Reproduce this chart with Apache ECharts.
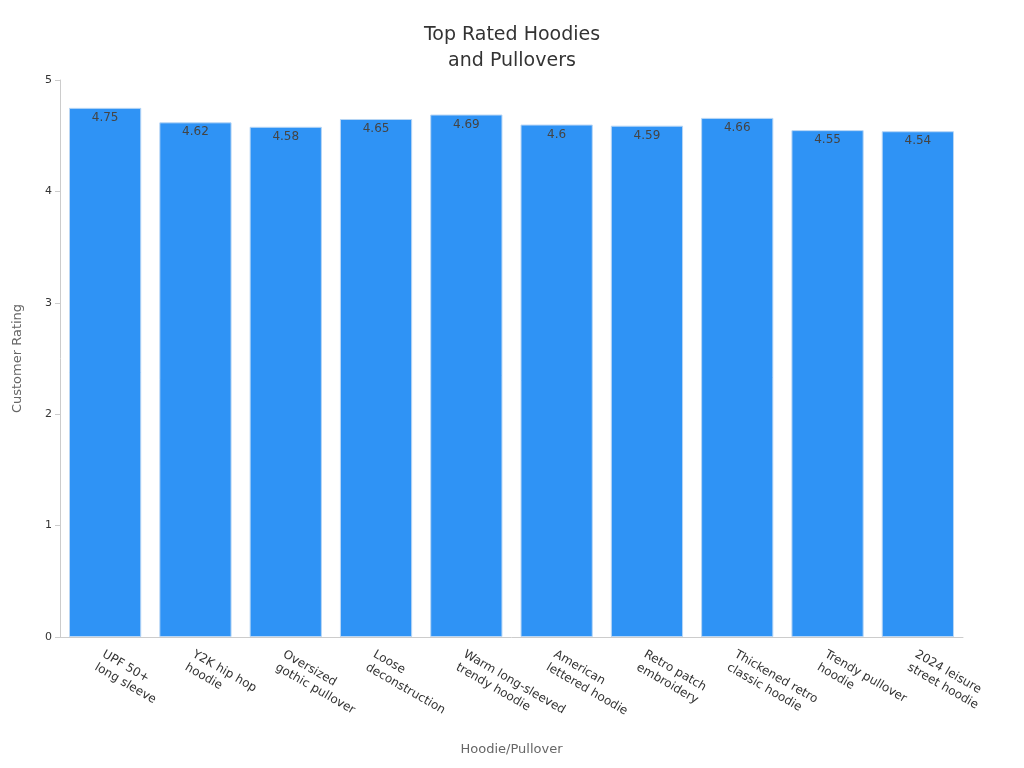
<!DOCTYPE html>
<html><head><meta charset="utf-8">
<script src="https://cdn.jsdelivr.net/npm/echarts@6/dist/echarts.min.js"></script>
<style>html,body{margin:0;padding:0;background:#fff}#c{width:1024px;height:768px}</style>
</head><body><div id="c"></div>
<script>
const categories = ["UPF 50+\nlong sleeve","Y2K hip hop\nhoodie","Oversized\ngothic pullover","Loose\ndeconstruction","Warm long-sleeved\ntrendy hoodie","American\nlettered hoodie","Retro patch\nembroidery","Thickened retro\nclassic hoodie","Trendy pullover\nhoodie","2024 leisure\nstreet hoodie"];
const ratings = [4.75,4.62,4.58,4.65,4.69,4.6,4.59,4.66,4.55,4.54];
const chart = echarts.init(document.getElementById('c'));
chart.setOption({
  animation:false,
  title:{text:'Top Rated Hoodies\nand Pullovers',left:'center',top:17,textStyle:{fontFamily:'DejaVu Sans',fontWeight:'normal',fontSize:19,color:'#333',lineHeight:26}},
  grid:{left:60,right:61,top:80,bottom:131},
  xAxis:{type:'category',data:categories,name:'Hoodie/Pullover',nameLocation:'middle',nameGap:106,
    nameTextStyle:{fontFamily:'DejaVu Sans',fontSize:13,color:'#666'},
    axisLine:{lineStyle:{color:'#ccc'}},axisTick:{alignWithLabel:true,lineStyle:{color:'#ccc'}},
    axisLabel:{rotate:-30,interval:0,fontFamily:'DejaVu Sans',fontSize:12,color:'#333',align:'left',verticalAlign:'top',margin:9,lineHeight:15,padding:[0,0,0,2]}},
  yAxis:{type:'value',min:0,max:5,interval:1,name:'Customer Rating',nameLocation:'middle',nameGap:36,
    nameTextStyle:{fontFamily:'DejaVu Sans',fontSize:13,color:'#666'},
    axisLine:{show:true,lineStyle:{color:'#ccc'}},axisTick:{show:true,lineStyle:{color:'#ccc'}},splitLine:{show:false},
    axisLabel:{fontFamily:'DejaVu Sans',fontSize:11,color:'#333'}},
  series:[{type:'bar',data:ratings,barWidth:'80%',
    itemStyle:{color:'#2f93f5',borderColor:'#b8d6f5',borderWidth:1},
    label:{show:true,position:'insideTop',fontFamily:'DejaVu Sans',fontSize:12,color:'#444',offset:[0,-1]}}]
});
</script></body></html>
